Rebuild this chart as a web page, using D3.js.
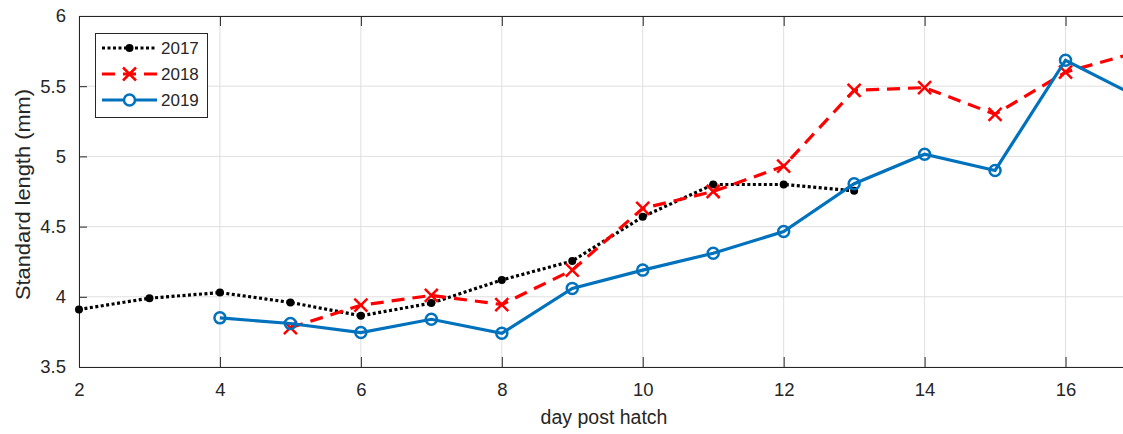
<!DOCTYPE html>
<html>
<head>
<meta charset="utf-8">
<script src="https://cdn.jsdelivr.net/npm/d3@7"></script>
<style>
  body { margin: 0; background: #fff; }
  text { font-family: "Liberation Sans", Arial, sans-serif; }
</style>
</head>
<body>
<svg id="chart" width="1123" height="434"></svg>
<script>
// values
var days2017 = [2, 3, 4, 5, 6, 7, 8, 9, 10, 11, 12, 13];
var len2017  = [3.91, 3.99, 4.03, 3.96, 3.865, 3.955, 4.12, 4.255, 4.57, 4.80, 4.80, 4.755];
var days2018 = [5, 6, 7, 8, 9, 10, 11, 12, 13, 14, 15, 16, 17];
var len2018  = [3.78, 3.94, 4.01, 3.945, 4.19, 4.63, 4.75, 4.93, 5.47, 5.49, 5.30, 5.60, 5.74];
var days2019 = [4, 5, 6, 7, 8, 9, 10, 11, 12, 13, 14, 15, 16, 17];
var len2019  = [3.85, 3.81, 3.745, 3.84, 3.74, 4.06, 4.19, 4.31, 4.465, 4.805, 5.015, 4.90, 5.685, 5.43];
var xTicks = [2, 4, 6, 8, 10, 12, 14, 16];
var yTicks = [3.5, 4, 4.5, 5, 5.5, 6];
var yearNames = ["2017", "2018", "2019"];

var svg = d3.select("#chart");
// note: "top" is taken by window.top, so plot edges get their own names
var pLeft = 79, pTop = 16, pBottom = 367, pRight = 1136;

var x = d3.scaleLinear().domain([2, 17]).range([pLeft, pRight]);
var y = d3.scaleLinear().domain([3.5, 6]).range([pBottom, pTop]);

var axisCol = "#262626";

// grid
svg.append("g").selectAll("line")
    .data(xTicks)
    .join("line")
    .attr("x1", d => x(d)).attr("x2", d => x(d))
    .attr("y1", pTop).attr("y2", pBottom)
    .attr("stroke", "#dfdfdf").attr("stroke-width", 1);
svg.append("g").selectAll("line")
    .data(yTicks)
    .join("line")
    .attr("x1", pLeft).attr("x2", pRight)
    .attr("y1", d => y(d)).attr("y2", d => y(d))
    .attr("stroke", "#dfdfdf").attr("stroke-width", 1);

// axes (inner ticks, matlab style)
svg.append("g")
    .attr("transform", `translate(0,${pBottom})`)
    .call(d3.axisBottom(x).tickValues(xTicks).tickSizeInner(-10).tickSizeOuter(0).tickPadding(16))
    .call(g => {
        g.select(".domain").attr("stroke", axisCol);
        g.selectAll(".tick line").attr("stroke", axisCol);
        g.selectAll("text").attr("fill", axisCol).style("font-size", "18.5px");
    });
svg.append("g")
    .attr("transform", `translate(0,${pTop})`)
    .call(d3.axisTop(x).tickValues(xTicks).tickSizeInner(-10).tickSizeOuter(0).tickFormat(""))
    .call(g => {
        g.select(".domain").attr("stroke", axisCol);
        g.selectAll(".tick line").attr("stroke", axisCol);
    });
svg.append("g")
    .attr("transform", `translate(${pLeft},0)`)
    .call(d3.axisLeft(y).tickValues(yTicks).tickSizeInner(-8).tickSizeOuter(0).tickPadding(13).tickFormat(d3.format("")))
    .call(g => {
        g.select(".domain").attr("stroke", axisCol);
        g.selectAll(".tick line").attr("stroke", axisCol);
        g.selectAll("text").attr("fill", axisCol).style("font-size", "18.5px");
    });

// labels
svg.append("text")
    .attr("x", 604).attr("y", 424)
    .attr("text-anchor", "middle")
    .attr("fill", axisCol)
    .style("font-size", "19.5px")
    .text("day post hatch");
svg.append("text")
    .attr("transform", `translate(30,${(pTop + pBottom) / 2 + 3}) rotate(-90) scale(1.12,1)`)
    .attr("text-anchor", "middle")
    .attr("fill", axisCol)
    .style("font-size", "19.5px")
    .text("Standard length (mm)");

var line = d3.line().x(d => x(d[0])).y(d => y(d[1]));

var s2017 = d3.zip(days2017, len2017);
var s2018 = d3.zip(days2018, len2018);
var s2019 = d3.zip(days2019, len2019);

svg.append("path").datum(s2017)
    .attr("d", line).attr("fill", "none")
    .attr("stroke", "#000").attr("stroke-width", 3.2)
    .attr("stroke-dasharray", "3,2.5");
svg.append("g").selectAll("circle")
    .data(s2017).join("circle")
    .attr("cx", d => x(d[0])).attr("cy", d => y(d[1]))
    .attr("r", 4).attr("fill", "#000");

svg.append("path").datum(s2018)
    .attr("d", line).attr("fill", "none")
    .attr("stroke", "#ff0000").attr("stroke-width", 3.2)
    .attr("stroke-dasharray", "13,8");
svg.append("g").selectAll("path")
    .data(s2018).join("path")
    .attr("d", d => {
        var cx = x(d[0]), cy = y(d[1]), r = 6.5;
        return `M${cx - r},${cy - r}L${cx + r},${cy + r}M${cx - r},${cy + r}L${cx + r},${cy - r}`;
    })
    .attr("stroke", "#ff0000").attr("stroke-width", 2.5).attr("fill", "none");

svg.append("path").datum(s2019)
    .attr("d", line).attr("fill", "none")
    .attr("stroke", "#0072bd").attr("stroke-width", 3.2);
svg.append("g").selectAll("circle")
    .data(s2019).join("circle")
    .attr("cx", d => x(d[0])).attr("cy", d => y(d[1]))
    .attr("r", 5.5).attr("fill", "none")
    .attr("stroke", "#0072bd").attr("stroke-width", 2.5);

// legend
var lg = svg.append("g");
lg.append("rect")
    .attr("x", 95.5).attr("y", 33.5).attr("width", 112).attr("height", 84)
    .attr("fill", "#fff").attr("stroke", axisCol).attr("stroke-width", 1);
var rowY = [48, 74, 100];
yearNames.forEach((nm, i) => {
    var yy = rowY[i];
    var ln = lg.append("line")
        .attr("x1", 102).attr("x2", 157).attr("y1", yy).attr("y2", yy)
        .attr("stroke-width", 3.2);
    if (i === 0) {
        ln.attr("stroke", "#000").attr("stroke-dasharray", "3,2.5");
        lg.append("circle").attr("cx", 129.5).attr("cy", yy).attr("r", 4).attr("fill", "#000");
    } else if (i === 1) {
        ln.attr("stroke", "#ff0000").attr("stroke-dasharray", "13,8");
        var cx = 129.5, r = 6.5;
        lg.append("path")
            .attr("d", `M${cx - r},${yy - r}L${cx + r},${yy + r}M${cx - r},${yy + r}L${cx + r},${yy - r}`)
            .attr("stroke", "#ff0000").attr("stroke-width", 2.5);
    } else {
        ln.attr("stroke", "#0072bd");
        lg.append("circle").attr("cx", 129.5).attr("cy", yy).attr("r", 5.5)
            .attr("fill", "#fff").attr("stroke", "#0072bd").attr("stroke-width", 2.5);
    }
    lg.append("text")
        .attr("x", 161).attr("y", yy + 6)
        .attr("fill", axisCol)
        .style("font-size", "17px")
        .text(nm);
});
</script>
</body>
</html>
